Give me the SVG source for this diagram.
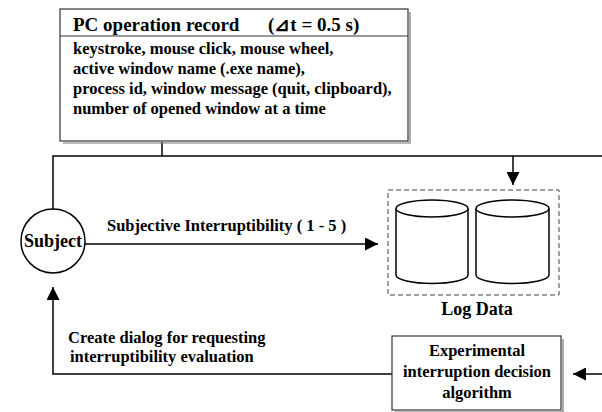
<svg xmlns="http://www.w3.org/2000/svg" width="602" height="412" viewBox="0 0 602 412">
<defs>
<style>
.t{font-family:"Liberation Serif","Times New Roman",serif;font-weight:bold;fill:#000}
.m{font-size:16.5px}
.ln{fill:none;stroke:#000;stroke-width:1.5}
.box{fill:#fff;stroke:#333;stroke-width:1.2}
.sh{fill:none;stroke:#777;stroke-width:1.2}
</style>
<marker id="ah" viewBox="0 0 10 10" refX="10" refY="5" markerWidth="13" markerHeight="13" markerUnits="userSpaceOnUse" orient="auto">
<path d="M0,0 L10,5 L0,10 Z" fill="#000"/>
</marker>
</defs>
<g id="connectors">
<path class="ln" d="M162,142 V156"/>
<path class="ln" d="M53,209 V156 H602"/>
<path class="ln" d="M513,156 V185" marker-end="url(#ah)"/>
<path class="ln" d="M85,244 H378" marker-end="url(#ah)"/>
<path class="ln" d="M392,374 H53 V287" marker-end="url(#ah)"/>
<path class="ln" d="M602,374 H573" marker-end="url(#ah)"/>
</g>
<g id="pc-record">
<path class="sh" d="M410,12 V143 H63"/>
<rect class="box" x="60" y="9" width="348" height="132"/>
<line x1="60" y1="36" x2="408" y2="36" stroke="#333" stroke-width="1.2"/>
<text class="t" x="73" y="31" font-size="19">PC operation record</text>
<text class="t" x="268" y="31" font-size="19">(⊿t = 0.5 s)</text>
<text class="t m" x="73" y="54">keystroke, mouse click, mouse wheel,</text>
<text class="t m" x="73" y="74">active window name (.exe name),</text>
<text class="t m" x="73" y="94">process id, window message (quit, clipboard),</text>
<text class="t m" x="73" y="114">number of opened window at a time</text>
</g>
<g id="subject">
<circle cx="53" cy="241" r="32" fill="#fff" stroke="#000" stroke-width="1.5"/>
<text class="t" x="53" y="247" font-size="18" text-anchor="middle">Subject</text>
</g>
<g id="interruptibility-label">
<text class="t m" x="107" y="231">Subjective Interruptibility ( 1 - 5 )</text>
</g>
<g id="log-data">
<rect x="388" y="190" width="171" height="105" fill="none" stroke="#444" stroke-width="1" stroke-dasharray="5,3"/>
<path class="ln" d="M396,208.5 V275 A36,8.5 0 0 0 468,275 V208.5"/>
<ellipse class="ln" cx="432" cy="208.5" rx="36" ry="8.5"/>
<path class="ln" d="M476,208.5 V275 A36.5,8.5 0 0 0 549,275 V208.5"/>
<ellipse class="ln" cx="512.5" cy="208.5" rx="36.5" ry="8.5"/>
<text class="t" x="477" y="315" font-size="18" text-anchor="middle">Log Data</text>
</g>
<g id="dialog-label">
<text class="t m" x="68" y="343">Create dialog for requesting</text>
<text class="t m" x="70" y="362">interruptibility evaluation</text>
</g>
<g id="algorithm">
<path class="sh" d="M563,339 V412 M395,412 H563"/>
<rect class="box" x="392" y="336" width="169" height="74"/>
<text class="t m" x="477" y="356" text-anchor="middle">Experimental</text>
<text class="t m" x="477" y="377" text-anchor="middle">interruption decision</text>
<text class="t m" x="477" y="398" text-anchor="middle">algorithm</text>
</g>
</svg>
